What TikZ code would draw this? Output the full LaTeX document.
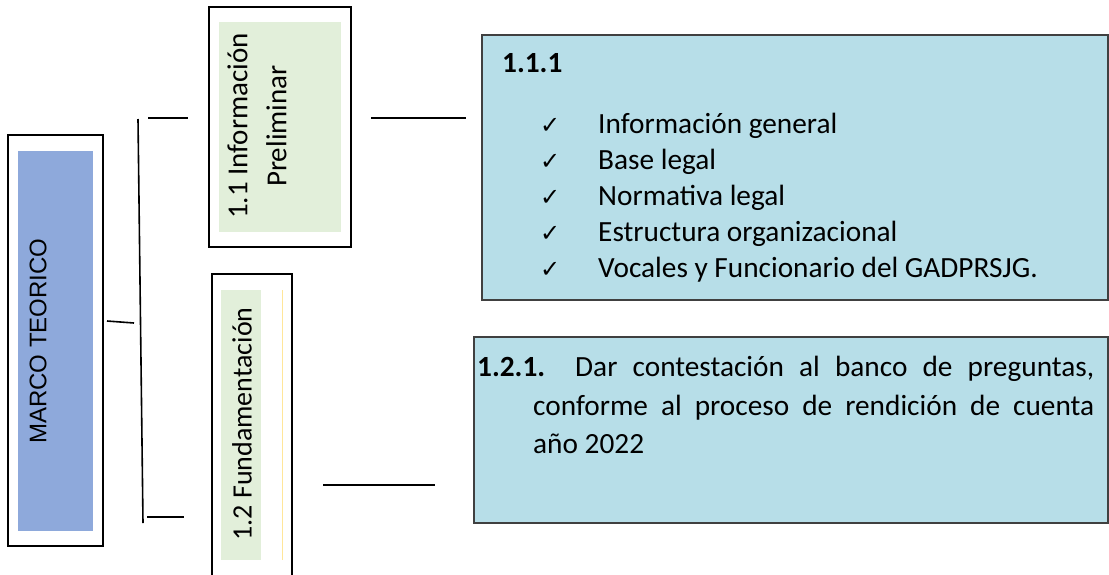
\documentclass[tikz,border=0pt]{standalone}
\usepackage{fontspec}
\setmainfont{Carlito}
\newfontfamily\arialfont{Liberation Sans}
\newfontfamily\checkfont{DejaVu Sans}
\definecolor{marcoblue}{HTML}{8EA9DB}
\definecolor{paleg}{HTML}{E2EFDA}
\definecolor{boxblue}{HTML}{B7DEE8}
\definecolor{boxline}{HTML}{404040}
\definecolor{paleyellow}{HTML}{FFE699}

\begin{document}
\begin{tikzpicture}[x=1pt, y=-1pt,
  frame/.style={draw=black, line width=1.3pt, fill=white, inner sep=0pt},
  band/.style={draw=none, inner sep=0pt},
  cbox/.style={draw=boxline, line width=1.8pt, fill=boxblue, inner sep=0pt},
  rule/.style={line width=1.6pt},
  item/.style={anchor=base west, inner sep=0pt, font=\fontsize{29.3}{34}\selectfont},
  tick/.style={anchor=base west, inner sep=0pt, font=\checkfont\fontsize{24}{26}\selectfont}]
\useasboundingbox (0,0) rectangle (1109,574);
\clip (0,0) rectangle (1109,574);

\node[frame, minimum width=95pt, minimum height=411pt] (mt) at (55.5,340.5) {};
\node[band, fill=marcoblue, minimum width=75pt, minimum height=380pt] (mtin) at (55.5,341) {};
\node[rotate=90, inner sep=0pt, font=\arialfont\fontsize{24}{28}\selectfont] (mtt) at (38,341) {MARCO TEORICO};

\node[frame, minimum width=142pt, minimum height=240pt] (ip) at (280,127) {};
\node[band, fill=paleg, minimum width=122pt, minimum height=210pt] (ipin) at (280,127) {};
\node[rotate=90, inner sep=0pt, align=center, font=\fontsize{29}{39}\selectfont] (ipt) at (257,126) {1.1 Información\\Preliminar};

\node[frame, minimum width=80pt, minimum height=320pt] (fu) at (252,434) {};
\node[band, fill=paleg, minimum width=40pt, minimum height=270pt] (fuin) at (241,425) {};
\node[rotate=90, inner sep=0pt, font=\fontsize{28}{34}\selectfont] (fut) at (242,424) {1.2 Fundamentación};
\coordinate (y1) at (282,290);
\coordinate (y2) at (282,560);
\draw[paleyellow, line width=0.8pt] (y1) -- (y2);

\node[cbox, minimum width=626pt, minimum height=265pt] (c1) at (795,167.5) {};
\node[anchor=base west, inner sep=0pt, font=\bfseries\fontsize{29.3}{34}\selectfont] (c1t) at (502,72) {1.1.1};
\node[tick] (k1) at (540,133) {✓};
\node[item] (i1) at (598,133) {Información general};
\node[tick] (k2) at (540,169) {✓};
\node[item] (i2) at (598,169) {Base legal};
\node[tick] (k3) at (540,205) {✓};
\node[item] (i3) at (598,205) {Normativa legal};
\node[tick] (k4) at (540,241) {✓};
\node[item] (i4) at (598,241) {Estructura organizacional};
\node[tick] (k5) at (540,277) {✓};
\node[item] (i5) at (598,277) {Vocales y Funcionario del GADPRSJG.};

\node[cbox, minimum width=634pt, minimum height=186pt] (c2) at (791,430) {};
\node[anchor=north west, inner sep=0pt, text width=561pt, align=justify, font=\fontsize{29.3}{38.5}\selectfont] (c2t) at (533,356) {\hspace*{-56pt}\makebox[98pt][l]{\bfseries 1.2.1.}Dar contestación al banco de preguntas,\linebreak conforme al proceso de rendición de cuenta\linebreak año 2022};

\coordinate (v1) at (138,119);
\coordinate (v2) at (143,523);
\coordinate (h1a) at (148,118);
\coordinate (h1b) at (188,118);
\coordinate (h2a) at (147,517);
\coordinate (h2b) at (184,517);
\coordinate (m1) at (107,321);
\coordinate (m2) at (134,323);
\coordinate (p1) at (371,118);
\coordinate (p2) at (466,118);
\coordinate (f1) at (323,485);
\coordinate (f2) at (435,485);
\draw[rule] (v1) -- (v2);
\draw[rule] (h1a) -- (h1b);
\draw[rule] (h2a) -- (h2b);
\draw[rule] (m1) -- (m2);
\draw[rule] (p1) -- (p2);
\draw[rule] (f1) -- (f2);
\end{tikzpicture}
\end{document}
